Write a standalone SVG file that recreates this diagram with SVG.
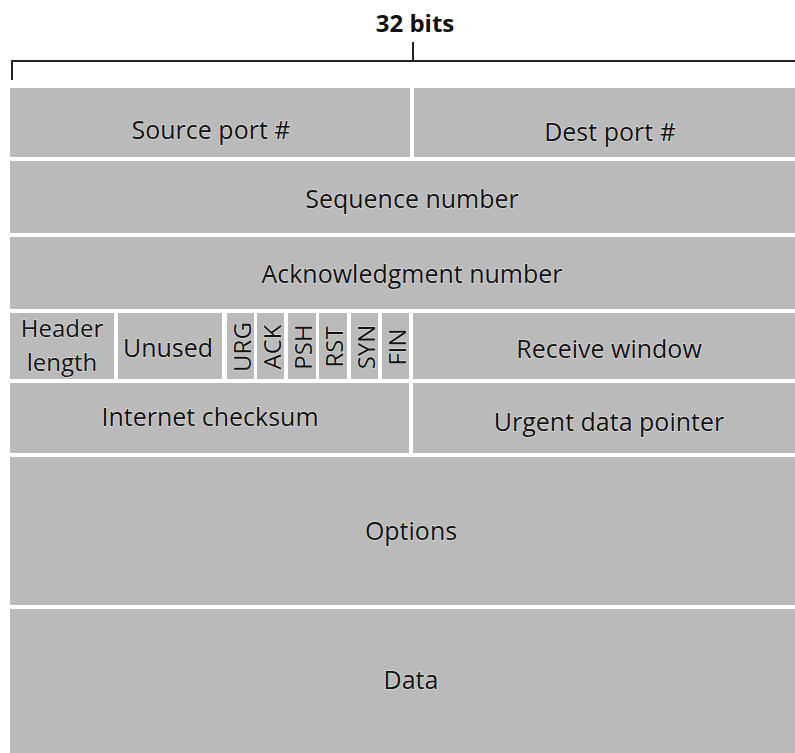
<svg xmlns="http://www.w3.org/2000/svg" width="795" height="753" viewBox="0 0 795 753">
<style>
.c{fill:#bababa}
.t{font-family:"Open Sans","Noto Sans","Liberation Sans",sans-serif;font-size:25px;fill:#111;text-anchor:middle;dominant-baseline:central;stroke:#ffffff;stroke-width:1.4px;stroke-opacity:0.5;paint-order:stroke}
.f{font-size:24px}
.h{font-size:24px}
.ln{stroke:#222;stroke-width:2;fill:none}
</style>
<rect width="795" height="753" fill="#ffffff"/>
<g id="bracket">
<text x="415" y="22" class="t" style="font-weight:bold;font-size:24px;stroke:none">32 bits</text>
<path class="ln" d="M12 80 V61 H795 M413 42 V61"/>
</g>
<g id="source-port"><rect class="c" x="10" y="88" width="400" height="69"/><text class="t" x="211" y="129">Source port #</text></g>
<g id="dest-port"><rect class="c" x="414" y="88" width="381" height="69"/><text class="t" x="610" y="131">Dest port #</text></g>
<g id="sequence-number"><rect class="c" x="10" y="161" width="785" height="72"/><text class="t" x="412" y="198">Sequence number</text></g>
<g id="ack-number"><rect class="c" x="10" y="237" width="785" height="72"/><text class="t" x="412" y="273">Acknowledgment number</text></g>
<g id="header-length"><rect class="c" x="10" y="313" width="104" height="66"/><text class="t h" x="62" y="327">Header</text><text class="t h" x="62" y="361">length</text></g>
<g id="unused"><rect class="c" x="118" y="313" width="104" height="66"/><text class="t" x="168" y="347">Unused</text></g>
<g id="urg"><rect class="c" x="227" y="313" width="27" height="66"/><text class="t f" transform="translate(241 347) rotate(-90)">URG</text></g>
<g id="ack"><rect class="c" x="257" y="313" width="27" height="66"/><text class="t f" transform="translate(271 347) rotate(-90)">ACK</text></g>
<g id="psh"><rect class="c" x="288" y="313" width="28" height="66"/><text class="t f" transform="translate(302 347) rotate(-90)">PSH</text></g>
<g id="rst"><rect class="c" x="319" y="313" width="28" height="66"/><text class="t f" transform="translate(333 347) rotate(-90)">RST</text></g>
<g id="syn"><rect class="c" x="351" y="313" width="27" height="66"/><text class="t f" transform="translate(365 347) rotate(-90)">SYN</text></g>
<g id="fin"><rect class="c" x="382" y="313" width="27" height="66"/><text class="t f" transform="translate(396 347) rotate(-90)">FIN</text></g>
<g id="receive-window"><rect class="c" x="413" y="313" width="382" height="66"/><text class="t" x="609" y="348">Receive window</text></g>
<g id="checksum"><rect class="c" x="10" y="383" width="399" height="70"/><text class="t" x="210" y="416">Internet checksum</text></g>
<g id="urgent-pointer"><rect class="c" x="413" y="383" width="382" height="70"/><text class="t" x="609" y="421">Urgent data pointer</text></g>
<g id="options"><rect class="c" x="10" y="457" width="785" height="148"/><text class="t" x="411" y="530">Options</text></g>
<g id="data"><rect class="c" x="10" y="609" width="785" height="144"/><text class="t" x="411" y="679">Data</text></g>
<g id="connectors"/>
</svg>
